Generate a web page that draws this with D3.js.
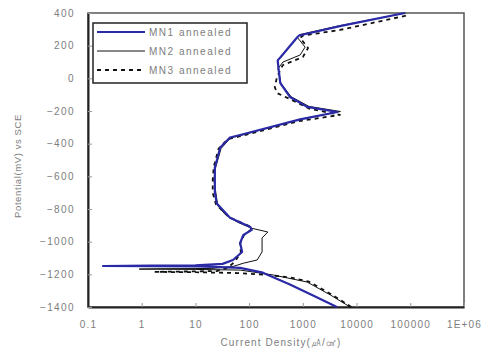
<!DOCTYPE html>
<html>
<head>
<meta charset="utf-8">
<script src="https://cdn.jsdelivr.net/npm/d3@7"></script>
<style>
  html, body { margin: 0; padding: 0; background: #fff; }
  svg { display: block; }
  text { font-family: Arial, "Liberation Sans", sans-serif; fill: #7d7d7d; }
</style>
</head>
<body>
<svg id="chart" width="485" height="354"></svg>
<script>
// Potentiodynamic polarization curves: [current density (uA/cm2), potential (mV vs SCE)]
const seriesNames = ["MN1 annealed", "MN2 annealed", "MN3 annealed"];

const mn1 = [
  [4300,-1400],[1550,-1330],[575,-1262],[180,-1190],[68,-1160],[12,-1151],[1.5,-1150],[0.19,-1149],
  [1.5,-1147],[10,-1145],[32,-1136],[50,-1112],[74,-1063],[68,-1008],[78,-959],[112,-928],[105,-910],
  [44,-853],[25,-767],[23,-700],[23,-622],[23,-546],[29,-423],[44,-362],[68,-347],[890,-251],[4400,-206],
  [1200,-175],[575,-114],[380,-29],[350,69],[340,110],[380,128],[780,250],[850,262],[4900,320],[79000,400]
];

const mn2 = [
  [7600,-1400],[3240,-1326],[1200,-1247],[280,-1204],[68,-1174],[10,-1170],[0.9,-1168],
  [2,-1166],[20,-1164],[50,-1152],[78,-1132],[141,-1112],[174,-1063],[174,-977],[223,-941],[112,-918],
  [60,-880],[35,-830],[26,-780],[24,-700],[22,-620],[24,-540],[30,-430],[45,-365],[70,-349],[900,-250],
  [5000,-203],[1300,-172],[600,-112],[390,-30],[345,60],[427,100],[890,143],[1100,191],[780,253],
  [880,268],[4800,322],[82000,400]
];

const mn3 = [
  [8000,-1400],[3300,-1320],[1300,-1245],[600,-1220],[200,-1202],[60,-1192],[10,-1187],[1.8,-1185],
  [5,-1183],[25,-1180],[40,-1160],[55,-1120],[70,-1065],[68,-1010],[80,-960],[110,-925],[100,-905],
  [42,-850],[24,-770],[21,-700],[21,-620],[22,-540],[27,-430],[40,-372],[65,-356],[850,-262],[4900,-224],
  [1300,-185],[560,-125],[330,-90],[300,-53],[330,8],[420,80],[1000,131],[1250,186],[890,247],
  [1000,262],[4900,296],[96000,388]
];

const xTicks = [0.1, 1, 10, 100, 1000, 10000, 100000, 1000000];
const xTickLabels = ["0.1", "1", "10", "100", "1000", "10000", "100000", "1E+06"];
const yTicks = [400, 200, 0, -200, -400, -600, -800, -1000, -1200, -1400];

const svg = d3.select("#chart");
const mLeft = 88, mRight = 464, mTop = 13, mBottom = 307;

const x = d3.scaleLog().domain([0.1, 1e6]).range([mLeft, mRight]);
const y = d3.scaleLinear().domain([-1400, 400]).range([mBottom, mTop]);

// plot area frame
svg.append("rect")
  .attr("x", mLeft).attr("y", mTop)
  .attr("width", mRight - mLeft).attr("height", mBottom - mTop)
  .attr("fill", "#fff").attr("stroke", "#555").attr("stroke-width", 1.5);

// x axis with inward ticks
const xAxis = d3.axisBottom(x)
  .tickValues(xTicks)
  .tickFormat((d, i) => xTickLabels[i])
  .tickSizeInner(-4).tickSizeOuter(0).tickPadding(14);
const gx = svg.append("g").attr("transform", `translate(0,${mBottom})`).call(xAxis);
gx.select(".domain").attr("stroke", "#222").attr("stroke-width", 2);
gx.selectAll(".tick line").attr("stroke", "#999");
gx.selectAll(".tick text").attr("font-size", 10).attr("letter-spacing", "1.2px").attr("fill", "#7d7d7d");

// y axis with inward ticks
const yAxis = d3.axisLeft(y)
  .tickValues(yTicks)
  .tickFormat(d3.format("d"))
  .tickSizeInner(-4).tickSizeOuter(0).tickPadding(13);
const gy = svg.append("g").attr("transform", `translate(${mLeft},0)`).call(yAxis);
gy.select(".domain").attr("stroke", "#222").attr("stroke-width", 2);
gy.selectAll(".tick line").attr("stroke", "#999");
gy.selectAll(".tick text").attr("font-size", 10).attr("letter-spacing", "1.4px").attr("fill", "#7d7d7d");

// axis titles
svg.append("text")
  .attr("x", 281).attr("y", 346)
  .attr("text-anchor", "middle")
  .attr("font-size", 10).attr("letter-spacing", "1.1px")
  .text("Current Density(㎂/㎠)");

svg.append("text")
  .attr("transform", "translate(21,166) rotate(-90)")
  .attr("text-anchor", "middle")
  .attr("font-size", 9.5).attr("letter-spacing", "0.6px")
  .text("Potential(mV) vs SCE");

// curves
const line = d3.line().x(d => x(d[0])).y(d => y(d[1])).curve(d3.curveLinear);
const styles = [
  { data: mn1, stroke: "#2a2aa6", width: 2.2, dash: null },
  { data: mn2, stroke: "#111", width: 1, dash: null },
  { data: mn3, stroke: "#111", width: 1.8, dash: "4,4" }
];

const plot = svg.append("g");
styles.slice().reverse().forEach(s => {
  plot.append("path")
    .datum(s.data)
    .attr("d", line)
    .attr("fill", "none")
    .attr("stroke", s.stroke)
    .attr("stroke-width", s.width)
    .attr("stroke-linejoin", "round")
    .attr("stroke-dasharray", s.dash);
});

// legend
const lg = svg.append("g");
lg.append("rect")
  .attr("x", 93).attr("y", 23).attr("width", 154).attr("height", 60)
  .attr("fill", "#fff").attr("stroke", "#222").attr("stroke-width", 1.5);

styles.forEach((s, i) => {
  const ly = 32 + i * 19;
  lg.append("line")
    .attr("x1", 97).attr("x2", 145).attr("y1", ly).attr("y2", ly)
    .attr("stroke", s.stroke).attr("stroke-width", s.width)
    .attr("stroke-dasharray", s.dash);
  lg.append("text")
    .attr("x", 149).attr("y", ly + 3.5)
    .attr("font-size", 10).attr("letter-spacing", "1.5px")
    .text(seriesNames[i]);
});
</script>
</body>
</html>
